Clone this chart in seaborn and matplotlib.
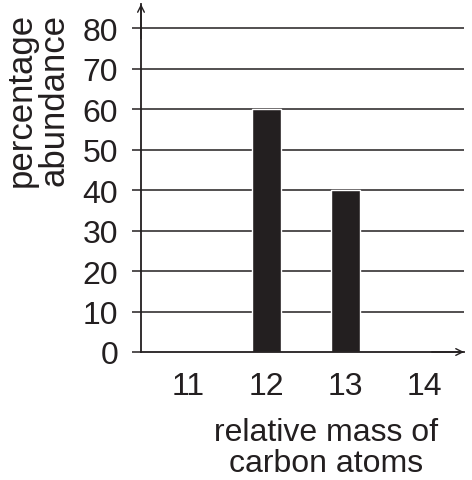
import matplotlib
matplotlib.use("Agg")
import matplotlib.pyplot as plt
import seaborn as sns
import pandas as pd

# data
masses = ["11", "12", "13", "14"]
abundance = [0, 60, 40, 0]
y_ticks = [0, 10, 20, 30, 40, 50, 60, 70, 80]

ink = "#231f20"

sns.set_style("white")
plt.rcParams["font.family"] = ["Liberation Sans", "DejaVu Sans"]

df = pd.DataFrame({"mass": masses, "abundance": abundance})

fig = plt.figure(figsize=(4.72, 4.81), dpi=100)
ax = fig.add_axes([141 / 472, 1 - 353 / 481, 323 / 472, 348 / 481])

sns.barplot(data=df, x="mass", y="abundance", color=ink, width=0.36,
            saturation=1, ax=ax, zorder=3)

ax.set_xlim(-0.595, 3.506)
ax.set_ylim(0, 86)
ax.set_yticks(y_ticks)

# horizontal grid lines
for v in y_ticks[1:]:
    ax.axhline(v, color=ink, lw=1.1, zorder=1)

for s in ["top", "right"]:
    ax.spines[s].set_visible(False)
ax.spines["left"].set_color(ink)
ax.spines["bottom"].set_color(ink)
ax.spines["left"].set_linewidth(1.3)
ax.spines["bottom"].set_linewidth(1.3)
ax.spines["left"].set_zorder(4)
ax.spines["bottom"].set_zorder(4)

# arrow heads on the axes
ax.annotate("", xy=(0, 1.0), xytext=(0, 0.9), xycoords="axes fraction",
            arrowprops=dict(arrowstyle="->", color=ink, lw=1.0,
                            mutation_scale=12, shrinkA=0, shrinkB=0))
ax.annotate("", xy=(1.0, 0), xytext=(0.9, 0), xycoords="axes fraction",
            arrowprops=dict(arrowstyle="->", color=ink, lw=1.0,
                            mutation_scale=12, shrinkA=0, shrinkB=0))

ax.tick_params(axis="y", direction="out", length=6.5, width=1.1, color=ink,
               pad=10, labelsize=23, labelcolor=ink, left=True)
ax.tick_params(axis="x", length=0, pad=13.5, labelsize=23, labelcolor=ink)

ax.set_xlabel("relative mass of\ncarbon atoms", fontsize=23, color=ink,
              linespacing=1.05)
ax.xaxis.label.set_va("center")
ax.xaxis.set_label_coords(0.573, -0.275)

ax.set_ylabel("percentage\nabundance", fontsize=25, color=ink,
              linespacing=0.98)
ax.yaxis.label.set_va("center")
ax.yaxis.set_label_coords(-0.32, 0.727)

fig.savefig("out.png", dpi=100)
